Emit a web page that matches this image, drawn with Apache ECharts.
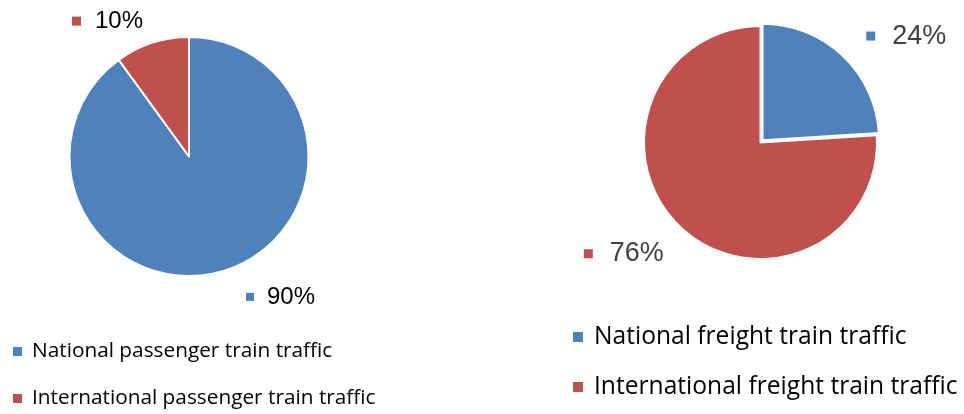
<!DOCTYPE html>
<html><head><meta charset="utf-8">
<script src="https://cdn.jsdelivr.net/npm/echarts@6/dist/echarts.min.js"></script>
<style>html,body{margin:0;padding:0;background:#fff}#c{width:964px;height:414px}</style>
</head><body><div id="c"></div>
<script>
const passengerNames = ['National passenger train traffic', 'International passenger train traffic'];
const passengerValues = [90, 10];
const freightNames = ['National freight train traffic', 'International freight train traffic'];
const freightValues = [24, 76];
const colors = ['#4F81BD', '#C0504D'];

const chart = echarts.init(document.getElementById('c'), null, {renderer: 'canvas'});

function mkData(names, values, opts) {
  return names.map((n, i) => Object.assign({name: n, value: values[i], itemStyle: {color: colors[i]}}, (opts && opts[i]) || {}));
}
function richLabel(idx, size, col, sq, gap) {
  return {
    formatter: '{sq|}{g|}{v|{c}%}',
    rich: {
      sq: {backgroundColor: colors[idx], width: sq, height: sq},
      g: {width: gap},
      v: {fontFamily: 'Liberation Sans, Arial, sans-serif', fontSize: size, color: col}
    }
  };
}
const leftShift = [[7, 2], [4, 3]];
const rightShift = [[-3, 4], [10, 3]];

const option = {
  backgroundColor: '#fff',
  animation: false,
  legend: [
    {
      data: passengerNames, orient: 'vertical', left: 13, top: 341, padding: 0,
      icon: 'rect', itemWidth: 9, itemHeight: 9, itemGap: 26,
      itemStyle: {borderWidth: 0},
      selectedMode: false,
      textStyle: {fontFamily: 'Open Sans', fontSize: 20.8, color: '#000', lineHeight: 20, padding: [0, 0, 0, 5]}
    },
    {
      data: freightNames, orient: 'vertical', left: 573, top: 324, padding: 0,
      icon: 'rect', itemWidth: 10, itemHeight: 10, itemGap: 24,
      itemStyle: {borderWidth: 0},
      selectedMode: false,
      textStyle: {fontFamily: 'Open Sans', fontSize: 24.6, color: '#000', lineHeight: 26, padding: [0, 0, 0, 6]}
    }
  ],
  series: [
    {
      type: 'pie', center: [189, 156.5], radius: 119.5, startAngle: 90, clockwise: true,
      itemStyle: {borderColor: '#fff', borderWidth: 2},
      label: {show: true, position: 'outside'},
      labelLine: {show: false, length: 26, length2: 0},
      labelLayout: function (p) { const s = leftShift[p.dataIndex]; return {dx: s[0], dy: s[1]}; },
      emphasis: {disabled: true},
      data: mkData(passengerNames, passengerValues, [
        {label: richLabel(0, 24, '#000', 8, 13)},
        {label: richLabel(1, 24, '#000', 9, 14)}
      ])
    },
    {
      type: 'pie', center: [760.5, 142.5], radius: 116.5, startAngle: 90, clockwise: true,
      selectedMode: 'single', selectedOffset: 3,
      itemStyle: {borderColor: '#fff', borderWidth: 2},
      label: {show: true, position: 'outside'},
      labelLine: {show: false, length: 32, length2: 0},
      labelLayout: function (p) { const s = rightShift[p.dataIndex]; return {dx: s[0], dy: s[1]}; },
      emphasis: {disabled: true},
      data: mkData(freightNames, freightValues, [
        {selected: true, label: richLabel(0, 27, '#404040', 9, 17)},
        {label: richLabel(1, 27, '#404040', 9, 17)}
      ])
    }
  ]
};
chart.setOption(option);
</script></body></html>
